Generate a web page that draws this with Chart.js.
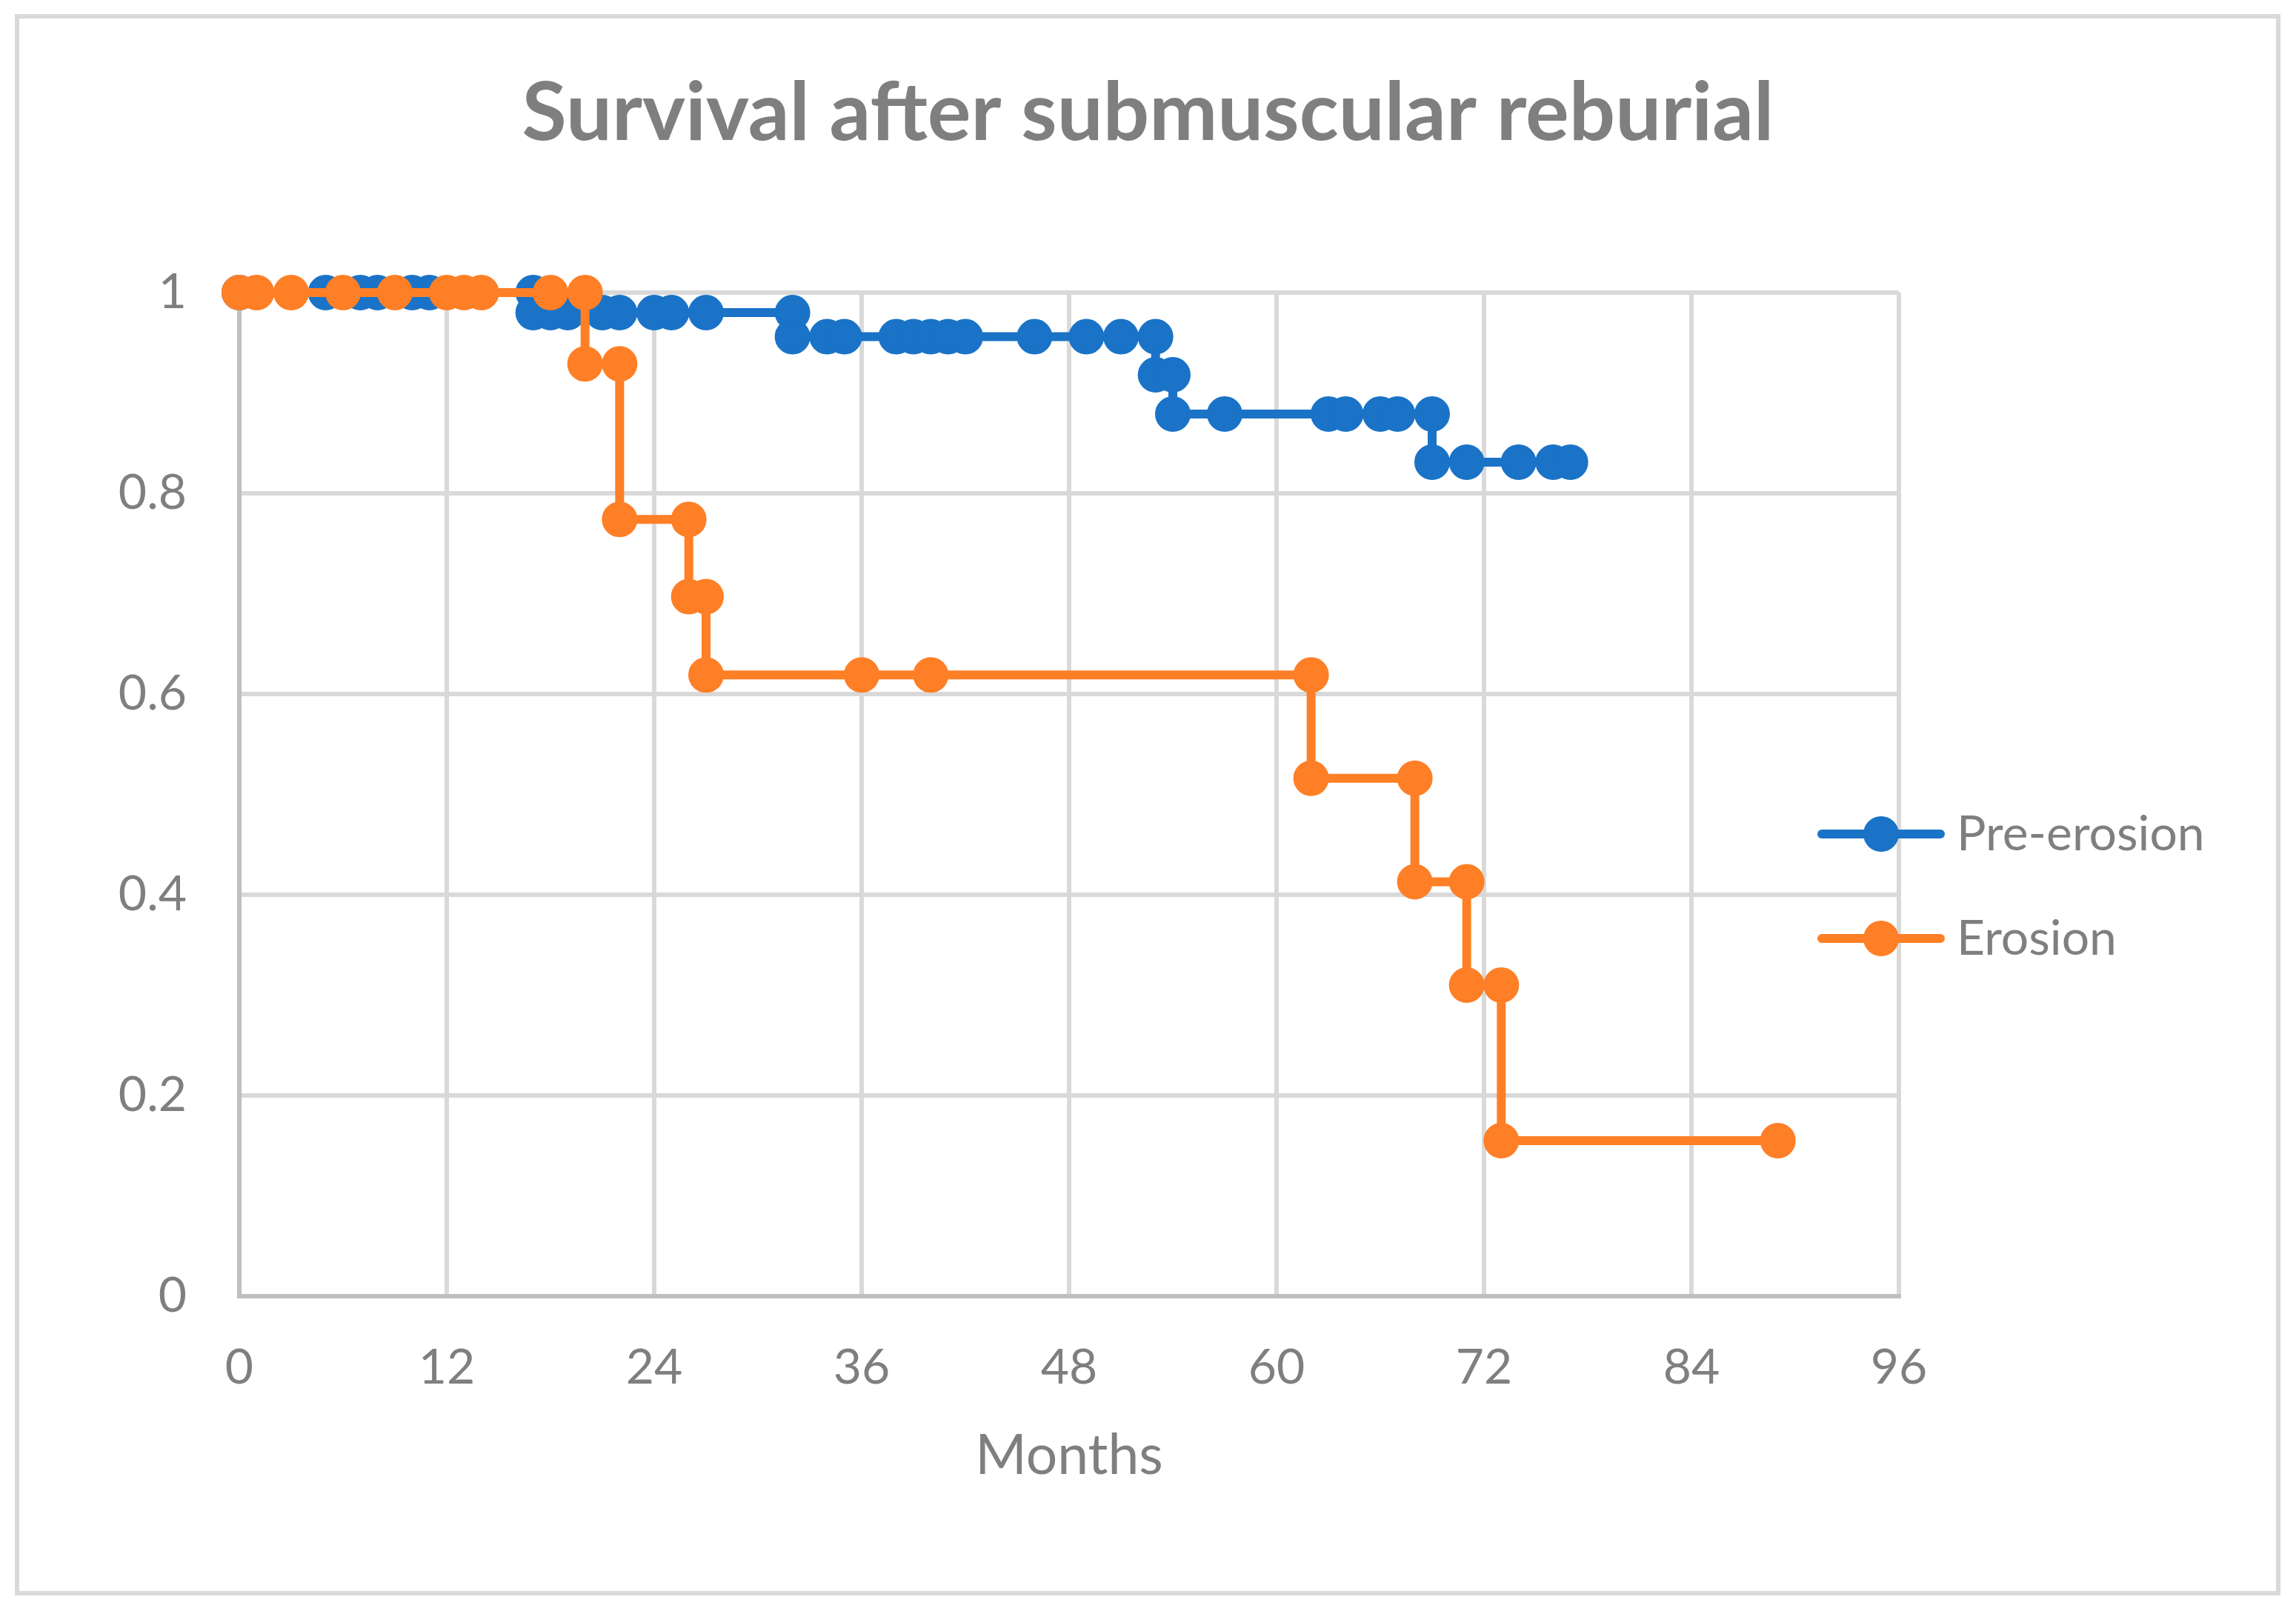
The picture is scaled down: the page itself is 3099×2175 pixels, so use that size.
<!DOCTYPE html>
<html>
<head>
<meta charset="utf-8">
<script src="https://cdn.jsdelivr.net/npm/chart.js@4.4.1/dist/chart.umd.min.js"></script>
<style>
  html, body { margin: 0; padding: 0; background: #ffffff; }
  #wrap { width: 3099px; height: 2175px; position: relative; }
  canvas { display: block; }
</style>
</head>
<body>
<div id="wrap"><canvas id="chart" width="3099" height="2175"></canvas></div>
<script>
// ---- Data ----
const chartTitle = 'Survival after submuscular reburial';
const xAxisTitle = 'Months';
const seriesNames = ['Pre-erosion', 'Erosion'];

const xTickValues = [0, 12, 24, 36, 48, 60, 72, 84, 96];
const yTickValues = [0, 0.2, 0.4, 0.6, 0.8, 1];

const preErosionMonths = [0, 5, 7, 8, 10, 11, 17, 17, 18, 19, 21, 22, 24, 25, 27, 32, 32, 34, 35, 38, 39, 40, 41, 42, 46, 49, 51, 53, 53, 54, 54, 57, 63, 64, 66, 67, 69, 69, 71, 74, 76, 77];
const preErosionSurvival = [1, 1, 1, 1, 1, 1, 1, 0.98, 0.98, 0.98, 0.98, 0.98, 0.98, 0.98, 0.98, 0.98, 0.956, 0.956, 0.956, 0.956, 0.956, 0.956, 0.956, 0.956, 0.956, 0.956, 0.956, 0.956, 0.918, 0.918, 0.879, 0.879, 0.879, 0.879, 0.879, 0.879, 0.879, 0.831, 0.831, 0.831, 0.831, 0.831];

const erosionMonths = [0, 1, 3, 6, 9, 12, 13, 14, 18, 20, 20, 22, 22, 26, 26, 27, 27, 36, 40, 62, 62, 68, 68, 71, 71, 73, 73, 89];
const erosionSurvival = [1, 1, 1, 1, 1, 1, 1, 1, 1, 1, 0.929, 0.929, 0.774, 0.774, 0.697, 0.697, 0.619, 0.619, 0.619, 0.619, 0.516, 0.516, 0.413, 0.413, 0.310, 0.310, 0.155, 0.155];

// ---- Styles ----
const BLUE = '#1a73c7';
const ORANGE = '#fe7f26';
const TEXT_GRAY = '#7f7f7f';
const GRID_GRAY = '#d9d9d9';
const AXIS_GRAY = '#bfbfbf';
const FONT = 'Lato';

function toPoints(xs, ys) {
  return xs.map((x, i) => ({ x: x, y: ys[i] }));
}

const frameAndLegend = {
  id: 'frameAndLegend',
  beforeDraw(chart) {
    const ctx = chart.ctx;
    ctx.save();
    ctx.fillStyle = '#ffffff';
    ctx.fillRect(0, 0, chart.width, chart.height);
    ctx.strokeStyle = GRID_GRAY;
    ctx.lineWidth = 6;
    ctx.strokeRect(23, 22, 3052, 2129);
    ctx.restore();
  },
  afterDraw(chart) {
    const ctx = chart.ctx;
    ctx.save();
    const rowY = [1126, 1267];
    chart.data.datasets.forEach((ds, i) => {
      const y = rowY[i];
      ctx.strokeStyle = ds.borderColor;
      ctx.lineWidth = 12;
      ctx.lineCap = 'round';
      ctx.beginPath();
      ctx.moveTo(2459, y);
      ctx.lineTo(2619, y);
      ctx.stroke();
      ctx.fillStyle = ds.borderColor;
      ctx.beginPath();
      ctx.arc(2539, y, 24, 0, Math.PI * 2);
      ctx.fill();
      ctx.fillStyle = TEXT_GRAY;
      ctx.font = '66px ' + FONT;
      ctx.textAlign = 'left';
      ctx.textBaseline = 'alphabetic';
      ctx.fillText(ds.label, 2641, y + 22);
    });
    ctx.restore();
  }
};

function build() {
  const ctx = document.getElementById('chart').getContext('2d');
  new Chart(ctx, {
    type: 'scatter',
    data: {
      datasets: [
        {
          label: seriesNames[0],
          data: toPoints(preErosionMonths, preErosionSurvival),
          showLine: true,
          borderColor: BLUE,
          backgroundColor: BLUE,
          borderWidth: 12,
          borderJoinStyle: 'round',
          borderCapStyle: 'round',
          tension: 0,
          pointRadius: 22,
          pointBorderWidth: 4,
          pointBackgroundColor: BLUE,
          pointBorderColor: BLUE,
          clip: false,
          order: 1
        },
        {
          label: seriesNames[1],
          data: toPoints(erosionMonths, erosionSurvival),
          showLine: true,
          borderColor: ORANGE,
          backgroundColor: ORANGE,
          borderWidth: 12,
          borderJoinStyle: 'round',
          borderCapStyle: 'round',
          tension: 0,
          pointRadius: 22,
          pointBorderWidth: 4,
          pointBackgroundColor: ORANGE,
          pointBorderColor: ORANGE,
          clip: false,
          order: 0
        }
      ]
    },
    options: {
      responsive: false,
      maintainAspectRatio: false,
      animation: false,
      devicePixelRatio: 1,
      events: [],
      layout: { padding: { left: 0, right: 0, top: 0, bottom: 164 } },
      plugins: {
        legend: { display: false },
        tooltip: { enabled: false },
        title: {
          display: true,
          text: chartTitle,
          color: TEXT_GRAY,
          font: { family: FONT, size: 110, weight: 'bold', lineHeight: 1.2 },
          padding: { top: 88, bottom: 175 }
        }
      },
      scales: {
        x: {
          type: 'linear',
          min: 0,
          max: 96,
          afterBuildTicks: (s) => { s.ticks = xTickValues.map(v => ({ value: v })); },
          afterFit: (s) => { s.height = 261; },
          ticks: {
            color: TEXT_GRAY,
            font: { family: FONT, size: 66, lineHeight: 1.2 },
            padding: 57,
            maxRotation: 0,
            autoSkip: false
          },
          grid: { color: GRID_GRAY, lineWidth: 6, drawTicks: false },
          border: { color: AXIS_GRAY, width: 6 },
          title: {
            display: true,
            text: xAxisTitle,
            color: TEXT_GRAY,
            font: { family: FONT, size: 75, lineHeight: 1.2 },
            padding: 0
          }
        },
        y: {
          type: 'linear',
          min: 0,
          max: 1,
          afterBuildTicks: (s) => { s.ticks = yTickValues.map(v => ({ value: v })); },
          afterFit: (s) => { s.width = 323; },
          ticks: {
            color: TEXT_GRAY,
            font: { family: FONT, size: 66, lineHeight: 1.2 },
            padding: 71,
            autoSkip: false,
            callback: (v) => String(v)
          },
          grid: { color: GRID_GRAY, lineWidth: 6, drawTicks: false },
          border: { color: AXIS_GRAY, width: 6 }
        },
        legendSpace: {
          type: 'linear',
          position: 'right',
          display: true,
          min: 0,
          max: 1,
          afterFit: (s) => { s.width = 536; },
          ticks: { display: false },
          grid: { display: false, drawTicks: false },
          border: { display: false }
        }
      }
    },
    plugins: [frameAndLegend]
  });
}

if (document.fonts && document.fonts.load) {
  Promise.all([
    document.fonts.load('66px Lato'),
    document.fonts.load('bold 110px Lato')
  ]).then(build, build);
} else {
  build();
}
</script>
</body>
</html>
